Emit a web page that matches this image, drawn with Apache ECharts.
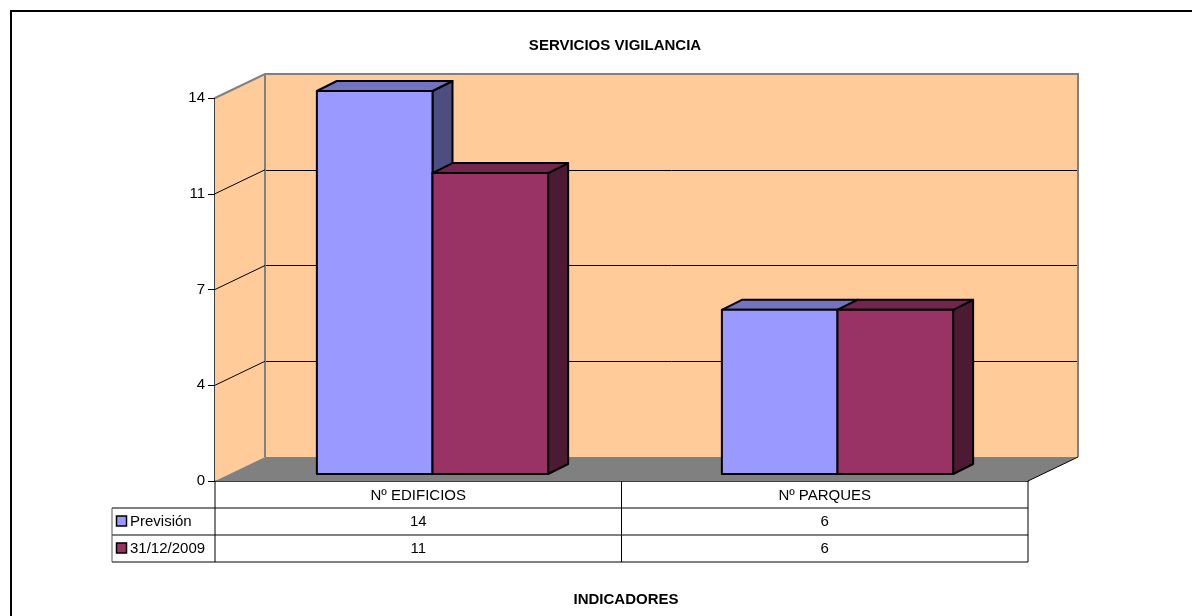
<!DOCTYPE html>
<html>
<head>
<meta charset="utf-8">
<script src="https://cdn.jsdelivr.net/npm/echarts@6/dist/echarts.min.js"></script>
<style>
  html, body { margin: 0; padding: 0; background: #fff; }
  #chart { width: 1192px; height: 616px; }
</style>
</head>
<body>
<div id="chart"></div>
<script>
  // datos
  var categories = ['Nº EDIFICIOS', 'Nº PARQUES'];
  var seriesNames = ['Previsión', '31/12/2009'];
  var prevision = [14, 6];
  var fecha = [11, 6];
  var yMax = 14;
  var yStep = 3.5;

  // colores: frente, arriba, lado
  var colores = [
    ['#9999FF', '#7373BF', '#4D4D80'],
    ['#993366', '#73264D', '#4D1A33']
  ];
  var FONT = 'Liberation Sans, Arial, sans-serif';

  // posiciones del "3D"
  var frontL = 215, frontR = 1028, frontT = 98, frontB = 481;
  var depthX = 50, depthY = -24;
  var barOffX = 15, barOffY = -7;
  var barDX = 20, barDY = -10;
  var tableL = 112, rowH = 27;

  var chart = echarts.init(document.getElementById('chart'));

  function barItem(s) {
    return function (params, api) {
      var cat = api.value(0), v = api.value(1);
      var top = api.coord([cat, v]);
      var base = api.coord([cat, 0]);
      var bw = api.size([1, 0])[0] * 0.2855;
      var x0 = s === 0 ? top[0] - bw : top[0];
      var x1 = x0 + bw;
      var y0 = top[1], y1 = base[1];
      var c = colores[s];
      var ln = { stroke: '#000', lineWidth: 2, lineJoin: 'round' };
      return {
        type: 'group',
        children: [
          { type: 'polygon', shape: { points: [[x1, y0], [x1 + barDX, y0 + barDY], [x1 + barDX, y1 + barDY], [x1, y1]] },
            style: Object.assign({ fill: c[2] }, ln) },
          { type: 'polygon', shape: { points: [[x0, y0], [x0 + barDX, y0 + barDY], [x1 + barDX, y0 + barDY], [x1, y0]] },
            style: Object.assign({ fill: c[1] }, ln) },
          { type: 'rect', shape: { x: x0, y: y0, width: bw, height: y1 - y0 },
            style: Object.assign({ fill: c[0] }, ln) }
        ]
      };
    };
  }

  // lineas diagonales de la pared lateral
  var ticks = [];
  for (var t = yStep; t < yMax; t += yStep) ticks.push(t);

  var graphics = [
    // marco exterior
    { type: 'rect', shape: { x: 11, y: 11, width: 1300, height: 700 }, style: { fill: null, stroke: '#000', lineWidth: 2 }, z: 1 },
    // pared lateral
    { type: 'polygon', shape: { points: [[frontL, frontT], [frontL + depthX, frontT + depthY], [frontL + depthX, frontB + depthY], [frontL, frontB]] },
      style: { fill: '#FFCC99' }, z: 3 },
    // suelo
    { type: 'polygon', shape: { points: [[frontL, frontB], [frontR, frontB], [frontR + depthX, frontB + depthY], [frontL + depthX, frontB + depthY]] },
      style: { fill: '#808080' }, z: 3 },
    // bordes grises de la pared
    { type: 'polyline', shape: { points: [[frontL, frontT], [frontL + depthX, frontT + depthY], [frontR + depthX, frontT + depthY], [frontR + depthX, frontB + depthY]] },
      style: { fill: null, stroke: '#808080', lineWidth: 2 }, z: 4 },
    { type: 'line', shape: { x1: frontL + depthX, y1: frontT + depthY, x2: frontL + depthX, y2: frontB + depthY },
      style: { stroke: '#808080', lineWidth: 2 }, z: 4 },
    { type: 'line', shape: { x1: frontR, y1: frontB, x2: frontR + depthX, y2: frontB + depthY },
      style: { stroke: '#000', lineWidth: 1 }, z: 4 }
  ];

  // tabla de datos
  var tableLines = [
    [tableL, frontB + rowH, frontR, frontB + rowH, '#000'],
    [tableL, frontB + rowH * 2, frontR, frontB + rowH * 2, '#000'],
    [tableL, frontB + rowH * 3, frontR, frontB + rowH * 3, '#000'],
    [tableL, frontB + rowH, tableL, frontB + rowH * 3, '#555'],
    [frontL, frontB, frontL, frontB + rowH * 3, '#000'],
    [(frontL + frontR) / 2, frontB, (frontL + frontR) / 2, frontB + rowH * 3, '#000'],
    [frontR, frontB, frontR, frontB + rowH * 3, '#000']
  ];
  tableLines.forEach(function (l) {
    graphics.push({ type: 'line', shape: { x1: l[0], y1: l[1], x2: l[2], y2: l[3] },
      style: { stroke: l[4], lineWidth: 1 }, z: 4 });
  });
  var colW = (frontR - frontL) / categories.length;
  [prevision, fecha].forEach(function (vals, s) {
    var cy = frontB + rowH * (s + 1) + rowH / 2;
    graphics.push({ type: 'rect', shape: { x: tableL + 4.5, y: cy - 5.5, width: 10, height: 10 },
      style: { fill: colores[s][0], stroke: '#000', lineWidth: 1.5 }, z: 5 });
    graphics.push({ type: 'text', x: tableL + 18, y: cy,
      style: { text: seriesNames[s], font: '15px ' + FONT, fill: '#000', verticalAlign: 'middle', align: 'left' }, z: 5 });
    vals.forEach(function (v, i) {
      graphics.push({ type: 'text', x: frontL + colW * (i + 0.5), y: cy,
        style: { text: String(v), font: '15px ' + FONT, fill: '#000', verticalAlign: 'middle', align: 'center' }, z: 5 });
    });
  });

  chart.setOption({
    backgroundColor: '#fff',
    animation: false,
    textStyle: { fontFamily: FONT },
    title: [
      { text: 'SERVICIOS VIGILANCIA', left: 610, top: 33, textAlign: 'center',
        textStyle: { fontSize: 15, fontWeight: 'bold', color: '#000', fontFamily: FONT } },
      { text: 'INDICADORES', left: 621, top: 587, textAlign: 'center',
        textStyle: { fontSize: 15, fontWeight: 'bold', color: '#000', fontFamily: FONT } }
    ],
    grid: [
      // pared del fondo
      { left: frontL + depthX, top: frontT + depthY, width: frontR - frontL, height: frontB - frontT,
        show: true, backgroundColor: '#FFCC99', borderWidth: 0 },
      // eje frontal
      { left: frontL, top: frontT, width: frontR - frontL, height: frontB - frontT },
      // plano de las barras
      { left: frontL + barOffX, top: frontT + barOffY, width: 810, height: frontB - frontT }
    ],
    xAxis: [
      { gridIndex: 0, type: 'category', data: categories, show: false },
      { gridIndex: 1, type: 'category', data: categories,
        axisLine: { lineStyle: { color: '#000', width: 1.5 } },
        axisTick: { show: false },
        axisLabel: { color: '#000', fontSize: 15, margin: 7, fontFamily: FONT } },
      { gridIndex: 2, type: 'category', data: categories, show: false }
    ],
    yAxis: [
      { gridIndex: 0, type: 'value', min: 0, max: yMax, interval: yStep,
        axisLine: { show: false }, axisTick: { show: false }, axisLabel: { show: false },
        splitLine: { show: true, showMinLine: false, showMaxLine: false, lineStyle: { color: '#000', width: 1 } } },
      { gridIndex: 1, type: 'value', min: 0, max: yMax, interval: yStep,
        axisLine: { show: true, lineStyle: { color: '#000', width: 1.5 } },
        axisTick: { show: true, inside: false, length: 7, lineStyle: { color: '#000', width: 1 } },
        axisLabel: { color: '#000', fontSize: 15, margin: 10, fontFamily: FONT,
          formatter: function (v) { return Math.round(v); } },
        splitLine: { show: false } },
      { gridIndex: 2, type: 'value', min: 0, max: yMax, show: false, splitLine: { show: false } }
    ],
    series: [
      {
        type: 'custom', name: 'pared', xAxisIndex: 1, yAxisIndex: 1, z: 4, silent: true,
        data: ticks.map(function (t) { return [0, t]; }),
        renderItem: function (params, api) {
          var p = api.coord([0, api.value(1)]);
          var x = params.coordSys.x;
          return { type: 'line', shape: { x1: x, y1: p[1], x2: x + depthX, y2: p[1] + depthY },
            style: { stroke: '#000', lineWidth: 1 } };
        }
      },
      {
        type: 'custom', name: seriesNames[0], xAxisIndex: 2, yAxisIndex: 2, z: 6,
        data: prevision.map(function (v, i) { return [i, v]; }),
        renderItem: barItem(0)
      },
      {
        type: 'custom', name: seriesNames[1], xAxisIndex: 2, yAxisIndex: 2, z: 7,
        data: fecha.map(function (v, i) { return [i, v]; }),
        renderItem: barItem(1)
      }
    ],
    graphic: graphics
  });
</script>
</body>
</html>
